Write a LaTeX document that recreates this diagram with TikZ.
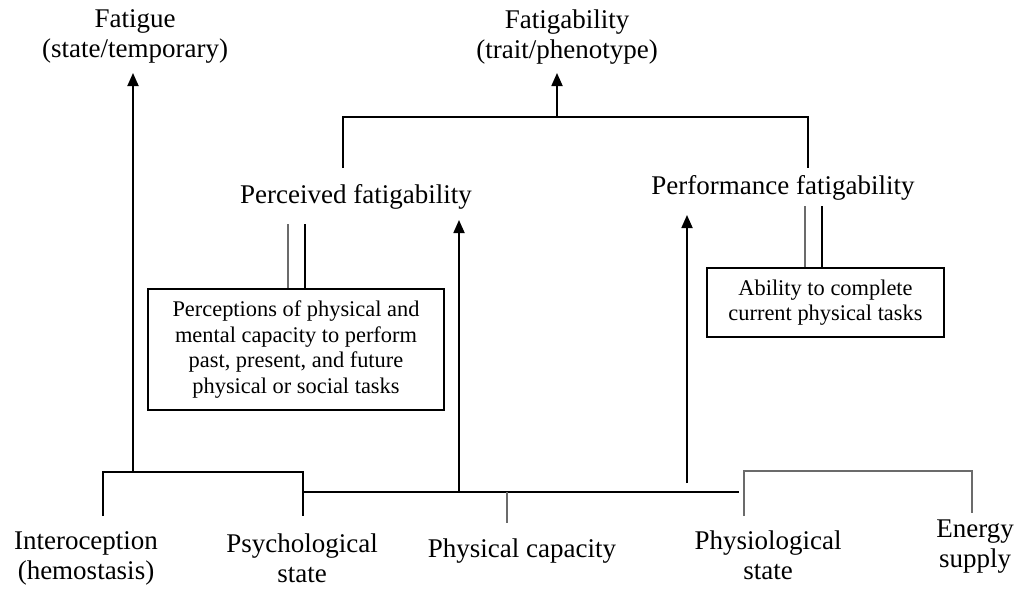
\documentclass[tikz,border=0pt]{standalone}
\usepackage{fontspec}
\setmainfont{Liberation Serif}
\usetikzlibrary{arrows.meta, positioning}

\begin{document}
\begin{tikzpicture}[x=0.5pt, y=-0.5pt,
            term/.style    ={align=center, inner sep=0pt, font=\fontsize{13.5}{15}\selectfont},
            infobox/.style ={rectangle, draw, line width=0.9pt, align=center, inner sep=2pt,
                             font=\fontsize{11.2}{12.7}\selectfont},
            link/.style    ={line width=0.9pt},
            glink/.style   ={line width=0.9pt, black!58},
            arr/.style     ={-{Triangle[length=6.5pt, width=5.5pt]}, line width=0.9pt}
        ]
            \useasboundingbox (0,0) rectangle (1022,589);

            % top level
            \node[term] (fatigue)   at (135,36)  {Fatigue\\(state/temporary)};
            \node[term] (fatigab)   at (567,37)  {Fatigability\\(trait/phenotype)};
            \node[term] (perceived) at (356,197) {Perceived fatigability};
            \node[term] (perform)   at (783,188) {Performance fatigability};

            % boxes
            \node[infobox, minimum width=148pt, minimum height=60.5pt] (percbox) at (296,349.5)
                  {Perceptions of physical and\\mental capacity to perform\\past, present, and future\\physical or social tasks};
            \node[infobox, minimum width=118.5pt, minimum height=34.5pt] (perfbox) at (825.5,302.5)
                  {Ability to complete\\current physical tasks};

            % bottom level
            \node[term] (intero) at (86,558)  {Interoception\\(hemostasis)};
            \node[term] (psych)  at (302,558) {Psychological\\state};
            \node[term] (capac)  at (522,551) {Physical capacity};
            \node[term] (physio) at (768,555) {Physiological\\state};
            \node[term] (energy) at (975,547) {Energy\\supply};

            \coordinate (topbar)   at (557,117);
            \coordinate (pleg)     at (343,168);
            \coordinate (fleg)     at (808,168);
            \coordinate (fatjoin)  at (133,472);
            \coordinate (intleg)   at (103,516);
            \coordinate (psyleg)   at (303,516);
            \coordinate (midL)     at (303,492);
            \coordinate (midR)     at (739,492);
            \coordinate (percjoin) at (459,492);
            \coordinate (capleg)   at (507,523);
            \coordinate (perfjoin) at (687,483);
            \coordinate (phyleg)   at (744,516);
            \coordinate (enleg)    at (972,513);

            \draw[arr] (topbar) -- (topbar |- 0,73);
            \draw[link] (pleg) |- (topbar) -| (fleg);

            \draw[glink] ([xshift=-4pt]percbox.north) -- ++(0,-64);
            \draw[link]  ([xshift=4.5pt]percbox.north) -- ++(0,-64);
            \draw[glink] ([xshift=-10.25pt]perfbox.north) -- ++(0,-61);
            \draw[link]  ([xshift=-1.75pt]perfbox.north) -- ++(0,-61);

            \draw[arr] (fatjoin) -- (fatjoin |- 0,73);
            \draw[link] (intleg) |- (fatjoin) -| (psyleg);
            \draw[link] (midL) -- (midR);
            \draw[arr] (percjoin) -- (percjoin |- 0,220);
            \draw[glink] (percjoin -| capleg) -- (capleg);
            \draw[arr] (perfjoin) -- (perfjoin |- 0,215);
            \draw[glink] (phyleg) |- (enleg |- 0,471) -- (enleg);
        \end{tikzpicture}
\end{document}
